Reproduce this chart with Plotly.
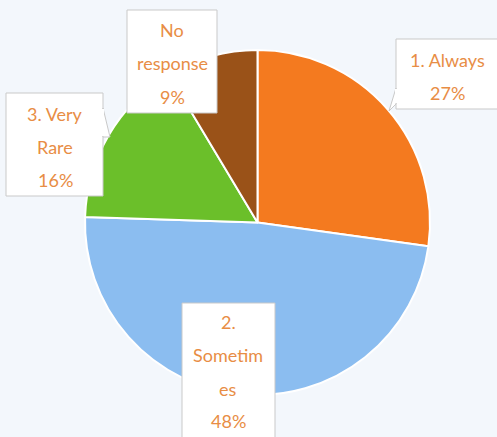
import plotly.graph_objects as go

labels = ["1. Always", "2. Sometimes", "3. Very Rare", "No response"]
values = [27.2, 48.3, 15.9, 8.6]
colors = ["#f47a1f", "#8bbdf0", "#6bbf2a", "#9a5218"]

# label box text lines (as wrapped in the original callouts)
label_lines = [["1. Always"], ["2.", "Sometim", "es"], ["3. Very", "Rare"], ["No", "response"]]

W, H = 497, 437
BG = "#f3f7fc"
TXT = "#e88d45"

fig = go.Figure(go.Pie(
    labels=labels, values=values, sort=False, direction="clockwise", rotation=0,
    marker=dict(colors=colors, line=dict(color="white", width=2)),
    textinfo="none", hoverinfo="label+percent", showlegend=False,
    domain=dict(x=[85 / W, 430 / W], y=[1 - 395 / H, 1 - 50 / H]),
))

# callout boxes (pixel geometry): left, top, right, bottom, line y positions
boxes = [
    dict(l=396, t=39, r=501, b=109, ys=[60, 93], cx=447),
    dict(l=182, t=303, r=275, b=445, ys=[322, 355, 389, 421], cx=228),
    dict(l=6, t=93, r=103, b=196, ys=[114, 147, 180], cx=55),
    dict(l=127, t=10, r=217, b=113, ys=[30, 63, 97], cx=172),
]
total = sum(values)
px = lambda x: x / W
py = lambda y: 1 - y / H
shapes = []
annotations = []
for i, bx in enumerate(boxes):
    shapes.append(dict(type="rect", xref="paper", yref="paper",
                       x0=px(bx["l"]), x1=px(bx["r"]), y0=py(bx["b"]), y1=py(bx["t"]),
                       fillcolor="white", line=dict(color="#c9c9c9", width=1)))
    pct = f"{round(values[i] / total * 100)}%"
    lines = label_lines[i] + [pct]
    for txt, y in zip(lines, bx["ys"]):
        annotations.append(dict(text=txt, x=px(bx["cx"]), y=py(y), xref="paper", yref="paper",
                                showarrow=False, xanchor="center", yanchor="middle",
                                font=dict(family="Lato, 'Noto Sans', sans-serif", size=18, color=TXT)))

# callout tails
def tail(pts):
    d = "M " + " L ".join(f"{px(x)},{py(y)}" for x, y in pts) + " Z"
    return dict(type="path", xref="paper", yref="paper", path=d,
                fillcolor="white", line=dict(color="#c9c9c9", width=1))

shapes.append(tail([(396, 88), (389, 111), (396, 104)]))
shapes.append(tail([(103, 108), (110, 137), (103, 137)]))
# cover tail joins on box edges
shapes.append(dict(type="line", xref="paper", yref="paper", x0=px(396), x1=px(396),
                   y0=py(89), y1=py(103), line=dict(color="white", width=2)))
shapes.append(dict(type="line", xref="paper", yref="paper", x0=px(103), x1=px(103),
                   y0=py(109), y1=py(136), line=dict(color="white", width=2)))

fig.update_layout(
    width=W, height=H, margin=dict(l=0, r=0, t=0, b=0),
    paper_bgcolor=BG, plot_bgcolor=BG,
    shapes=shapes, annotations=annotations,
)
fig.write_html("out.html", config={"displayModeBar": False})

# remove default page margin so the figure fills the window
with open("out.html", "r", encoding="utf-8") as f:
    html = f.read()
html = html.replace("<body>", "<body style=\"margin:0;overflow:hidden;background:%s\">" % BG, 1)
with open("out.html", "w", encoding="utf-8") as f:
    f.write(html)
